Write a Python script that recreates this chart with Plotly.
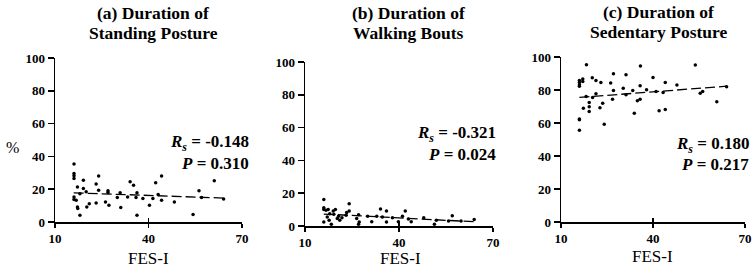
import plotly.graph_objects as go

# ---- data ----
fes_a = [16.1, 16.1, 16.1, 16.1, 16.1, 16.1, 16.8, 17.2, 17.2, 17.3, 18.0, 18.0, 19.1, 19.1, 20.0, 20.2,
         21.0, 23.2, 23.2, 24.0, 24.0, 26.2, 27.0, 27.0, 27.3, 30.0, 30.9, 31.1, 33.3, 34.1, 35.2, 36.0,
         36.3, 36.3, 38.2, 40.3, 41.4, 42.3, 43.1, 44.2, 44.2, 48.3, 54.3, 56.2, 57.0, 61.1, 64.1]
standing = [35.3, 29.6, 28.2, 26.5, 15.3, 13.7, 13.3, 21.4, 9.2, 8.2, 4.1, 17.3, 25.5, 20.4, 18.4, 9.2,
            11.2, 23.1, 11.6, 28.0, 19.4, 12.2, 19.0, 18.0, 10.2, 14.9, 17.8, 8.8, 15.3, 24.5, 22.4, 14.9,
            17.8, 4.1, 14.3, 10.2, 14.3, 23.9, 16.7, 28.0, 13.3, 12.2, 4.5, 19.0, 14.9, 25.1, 14.1]

fes_b = [16.0, 16.0, 16.0, 16.0, 16.7, 17.1, 17.4, 17.7, 17.9, 18.4, 19.0, 19.2, 19.7, 20.3, 20.7, 21.1,
         21.8, 23.1, 23.3, 24.1, 24.1, 26.5, 27.1, 27.3, 27.1, 30.0, 31.3, 32.9, 34.1, 34.7, 36.0, 36.0,
         37.9, 39.8, 41.1, 42.0, 43.0, 43.9, 47.9, 51.3, 51.9, 55.8, 57.0, 59.8, 64.0]
walking = [16.1, 11.2, 10.0, 2.4, 9.6, 5.5, 10.0, 3.5, 7.5, 1.0, 9.1, 7.1, 10.0, 4.5, 5.9, 3.5,
           5.1, 6.5, 8.3, 13.6, 9.1, 4.5, 6.9, 2.4, 1.0, 5.9, 2.6, 5.9, 10.4, 5.5, 9.1, 2.4,
           5.1, 2.6, 5.9, 9.1, 4.3, 2.6, 5.1, 1.0, 3.5, 3.0, 6.3, 3.0, 3.9]

fes_c = [16.0, 16.0, 16.0, 16.0, 16.0, 16.0, 16.0, 17.1, 17.1, 17.3, 18.3, 18.2, 19.2, 19.2, 19.2, 20.2,
         20.3, 21.4, 21.4, 22.7, 23.0, 23.6, 24.1, 26.2, 26.8, 27.1, 27.1, 30.3, 31.2, 31.2, 33.4, 33.9,
         34.9, 35.9, 35.8, 35.8, 37.9, 40.0, 41.0, 42.0, 43.3, 44.0, 44.0, 47.8, 53.8, 55.4, 56.2, 60.8, 64.0]
sedentary = [85.8, 84.6, 83.2, 82.2, 62.5, 61.9, 55.6, 86.6, 85.2, 69.0, 95.3, 76.1, 72.4, 69.8, 66.9, 87.4,
             75.5, 85.7, 77.7, 69.2, 84.5, 72.0, 59.2, 84.2, 74.4, 89.8, 79.7, 81.1, 89.3, 77.1, 79.7, 65.9,
             73.5, 94.6, 82.6, 74.4, 80.1, 87.6, 79.1, 67.5, 78.5, 68.2, 84.5, 83.0, 95.1, 78.1, 79.1, 72.9, 82.0]

trend_x = [16, 64]
trend_a = [17.8, 14.6]
trend_b = [7.3, 2.6]
trend_c = [75.5, 82.3]

titles = [["(a) Duration of", "Standing Posture"],
          ["(b) Duration of", "Walking Bouts"],
          ["(c) Duration of", "Sedentary Posture"]]
rs_text = ["-0.148", "-0.321", "0.180"]
p_text = ["0.310", "0.024", "0.217"]
x_ticks = [10, 40, 70]
y_ticks = [0, 20, 40, 60, 80, 100]

W, H = 755, 276
FONT = "Liberation Serif"

panels = [(55, 242, 58, 222), (305, 493, 62, 226), (561, 745, 57, 222)]

fig = go.Figure()
series = [(fes_a, standing, trend_a), (fes_b, walking, trend_b), (fes_c, sedentary, trend_c)]
for i, (xs, ys, tr) in enumerate(series):
    ax = "" if i == 0 else str(i + 1)
    fig.add_trace(go.Scatter(x=xs, y=ys, mode="markers",
                             marker=dict(color="black", size=3.5),
                             xaxis="x" + ax, yaxis="y" + ax, showlegend=False, cliponaxis=False,
                             hoverinfo="skip"))
    fig.add_trace(go.Scatter(x=trend_x, y=tr, mode="lines",
                             line=dict(color="black", width=1.3, dash="10px,4px"),
                             xaxis="x" + ax, yaxis="y" + ax, showlegend=False, hoverinfo="skip"))
    # invisible trace so the inner-tick overlay axis is drawn
    fig.add_trace(go.Scatter(x=[None], y=[None], xaxis="x" + str(i + 4), yaxis="y" + ax,
                             showlegend=False, hoverinfo="skip"))

layout = dict(width=W, height=H, margin=dict(l=0, r=0, t=0, b=0, autoexpand=False),
              paper_bgcolor="white", plot_bgcolor="white", showlegend=False)
tickfont = dict(family=FONT, size=13, color="black", weight="bold")
for i, (x0, x1, yt, yb) in enumerate(panels):
    ax = "" if i == 0 else str(i + 1)
    layout["xaxis" + ax] = dict(domain=[x0 / W, x1 / W], range=[10, 70], tickvals=x_ticks,
                                showline=True, linecolor="black", linewidth=1.5,
                                ticks="outside", ticklen=4, tickwidth=1.5, tickcolor="black",
                                showgrid=False, zeroline=False, tickfont=tickfont,
                                anchor="y" + ax, fixedrange=True, automargin=False)
    layout["xaxis" + str(i + 4)] = dict(domain=[x0 / W, x1 / W], range=[10, 70], tickvals=x_ticks[1:],
                                        overlaying="x" + ax, anchor="y" + ax, side="bottom",
                                        showline=False, ticks="inside", ticklen=4, tickwidth=1.5,
                                        tickcolor="black", showticklabels=False, showgrid=False,
                                        zeroline=False, fixedrange=True, automargin=False)
    layout["yaxis" + ax] = dict(domain=[1 - yb / H, 1 - yt / H], range=[0, 100], tickvals=y_ticks,
                                showline=True, linecolor="black", linewidth=1.5,
                                ticks="outside", ticklen=6, tickwidth=1.5, tickcolor="black",
                                showgrid=False, zeroline=False, tickfont=tickfont,
                                anchor="x" + ax, fixedrange=True, automargin=False)
fig.update_layout(**layout)

ann = []
title_cx = [153, 409, 658]
title_y = [(13, 33), (13, 33), (12, 32)]
fes_pos = [(148, 258), (400, 258), (652, 256)]
stat_right = [251, 498, 751]
stat_y = [(143, 163), (134, 154), (145, 164)]
for i in range(3):
    for j in range(2):
        ann.append(dict(x=title_cx[i] / W, y=1 - title_y[i][j] / H, xref="paper", yref="paper",
                        text="<b>" + titles[i][j] + "</b>", showarrow=False,
                        xanchor="center", yanchor="middle",
                        font=dict(family=FONT, size=17.5, color="black")))
    ann.append(dict(x=fes_pos[i][0] / W, y=1 - fes_pos[i][1] / H, xref="paper", yref="paper",
                    text="FES-I", showarrow=False, xanchor="center", yanchor="middle",
                    font=dict(family=FONT, size=17, color="black")))
    ann.append(dict(x=stat_right[i] / W, y=1 - stat_y[i][0] / H, xref="paper", yref="paper",
                    text="<b><i>R</i><sub><i>s</i></sub> = " + rs_text[i] + "</b>", showarrow=False,
                    xanchor="right", yanchor="middle",
                    font=dict(family=FONT, size=17, color="black")))
    ann.append(dict(x=stat_right[i] / W, y=1 - stat_y[i][1] / H, xref="paper", yref="paper",
                    text="<b><i>P</i> = " + p_text[i] + "</b>", showarrow=False,
                    xanchor="right", yanchor="middle",
                    font=dict(family=FONT, size=17, color="black")))
ann.append(dict(x=12 / W, y=1 - 147 / H, xref="paper", yref="paper", text="%", showarrow=False,
                xanchor="center", yanchor="middle", font=dict(family=FONT, size=16, color="black")))
fig.update_layout(annotations=ann)

fig.write_html("out.html", config={"displayModeBar": False, "staticPlot": True},
               post_script="document.body.style.margin='0';document.body.style.overflow='hidden';")
